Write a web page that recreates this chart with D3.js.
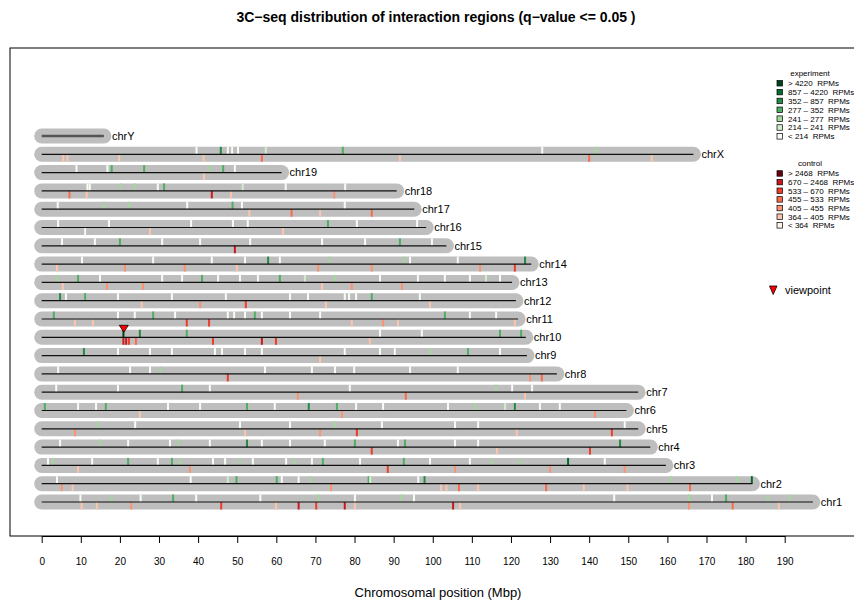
<!DOCTYPE html>
<html>
<head>
<meta charset="utf-8">
<script src="https://cdn.jsdelivr.net/npm/d3@7"></script>
<style>
  body { margin: 0; background: #fff; }
  svg { font-family: "Liberation Sans", Arial, Helvetica, sans-serif; }
  .lgtext { white-space: pre; }
</style>
</head>
<body>
<div id="chart"></div>
<script>
// chromosomes, top to bottom, with lengths (Mbp)
const chromNames = ['chrY', 'chrX', 'chr19', 'chr18', 'chr17', 'chr16', 'chr15', 'chr14', 'chr13', 'chr12',
  'chr11', 'chr10', 'chr9', 'chr8', 'chr7', 'chr6', 'chr5', 'chr4', 'chr3', 'chr2', 'chr1'];
const chromLengths = [15.9, 166.65, 61.34, 90.77, 95.27, 98.32, 103.49, 125.19, 120.28, 121.26,
  121.84, 123.8, 124.08, 131.74, 152.52, 149.52, 152.54, 155.63, 159.6, 181.75, 197.2];

const xTicks = [0, 10, 20, 30, 40, 50, 60, 70, 80, 90, 100, 110, 120, 130, 140, 150, 160, 170, 180, 190];

// legend classes (0 = strongest)
const expLabels = ['> 4220  RPMs', '857 \u2013 4220  RPMs', '352 \u2013 857  RPMs', '277 \u2013 352  RPMs',
  '241 \u2013 277  RPMs', '214 \u2013 241  RPMs', '< 214  RPMs'];
const ctrlLabels = ['> 2468  RPMs', '670 \u2013 2468  RPMs', '533 \u2013 670  RPMs', '455 \u2013 533  RPMs',
  '405 \u2013 455  RPMs', '364 \u2013 405  RPMs', '< 364  RPMs'];
const expColors = ['#00441B', '#006D2C', '#238B45', '#4DAF62', '#A1D99B', '#D2EDCB', '#F7FCF5'];
const ctrlColors = ['#67000D', '#CB181D', '#EF3B2C', '#FB6A4A', '#FC9272', '#FCC5AD', '#FFF3EA'];

const viewpoint = ['chr10', 21.0];

// experiment hits: [chrom, position (Mbp), class]
const expHits = [
  ['chrX', 39.6, 6], ['chrX', 45.8, 2], ['chrX', 47.6, 6], ['chrX', 48.7, 6], ['chrX', 50.2, 6], ['chrX', 57.3, 5],
  ['chrX', 77.0, 3], ['chrX', 128.0, 6], ['chrX', 141.8, 4],
  ['chr19', 8.9, 6], ['chr19', 16.8, 6], ['chr19', 17.9, 3], ['chr19', 26.2, 3], ['chr19', 43.0, 4], ['chr19', 46.4, 3],
  ['chr19', 49.4, 6],
  ['chr18', 11.7, 6], ['chr18', 12.3, 6], ['chr18', 20.2, 4], ['chr18', 23.8, 4], ['chr18', 29.7, 6], ['chr18', 31.3, 3],
  ['chr18', 51.4, 5], ['chr18', 62.4, 6], ['chr18', 77.6, 6],
  ['chr17', 4.1, 6], ['chr17', 15.9, 4], ['chr17', 22.4, 4], ['chr17', 37.2, 6], ['chr17', 48.8, 3], ['chr17', 51.2, 6],
  ['chr17', 77.5, 6],
  ['chr16', 4.2, 6], ['chr16', 17.2, 6], ['chr16', 38.2, 6], ['chr16', 48.9, 6], ['chr16', 52.7, 6], ['chr16', 73.2, 3],
  ['chr16', 80.6, 6], ['chr16', 96.0, 6],
  ['chr15', 5.2, 6], ['chr15', 13.6, 6], ['chr15', 20.0, 3], ['chr15', 30.8, 6], ['chr15', 40.5, 6], ['chr15', 53.3, 6],
  ['chr15', 71.7, 6], ['chr15', 82.7, 6], ['chr15', 91.6, 3], ['chr15', 99.8, 6],
  ['chr14', 10.3, 6], ['chr14', 28.5, 6], ['chr14', 43.5, 6], ['chr14', 52.0, 6], ['chr14', 57.9, 2], ['chr14', 60.9, 6],
  ['chr14', 73.7, 4], ['chr14', 92.6, 4], ['chr14', 94.2, 6], ['chr14', 106.4, 6], ['chr14', 123.6, 2],
  ['chr13', 3.9, 4], ['chr13', 9.3, 3], ['chr13', 14.9, 6], ['chr13', 30.8, 6], ['chr13', 35.9, 6], ['chr13', 41.0, 3],
  ['chr13', 45.1, 6], ['chr13', 50.7, 6], ['chr13', 55.3, 6], ['chr13', 60.9, 3], ['chr13', 67.3, 5], ['chr13', 75.0, 4],
  ['chr13', 86.5, 6], ['chr13', 96.2, 6], ['chr13', 103.1, 6], ['chr13', 109.5, 6], ['chr13', 113.6, 5], ['chr13', 117.2, 6],
  ['chr12', 4.7, 2], ['chr12', 6.2, 6], ['chr12', 11.1, 3], ['chr12', 19.5, 6], ['chr12', 33.3, 6], ['chr12', 47.1, 6],
  ['chr12', 63.5, 6], ['chr12', 68.1, 6], ['chr12', 77.5, 6], ['chr12', 78.6, 6], ['chr12', 80.4, 6], ['chr12', 84.4, 3],
  ['chr12', 96.7, 6],
  ['chr11', 3.1, 3], ['chr11', 19.5, 6], ['chr11', 23.8, 6], ['chr11', 28.5, 3], ['chr11', 34.1, 6], ['chr11', 47.6, 6],
  ['chr11', 49.2, 6], ['chr11', 52.0, 6], ['chr11', 54.5, 3], ['chr11', 56.3, 6], ['chr11', 63.5, 6], ['chr11', 71.2, 6],
  ['chr11', 103.1, 3], ['chr11', 109.5, 6], ['chr11', 116.2, 6],
  ['chr10', 20.9, 0], ['chr10', 25.1, 2], ['chr10', 37.1, 3], ['chr10', 86.5, 6], ['chr10', 97.2, 6], ['chr10', 117.2, 3],
  ['chr10', 122.6, 3],
  ['chr9', 10.8, 2], ['chr9', 19.5, 6], ['chr9', 27.7, 6], ['chr9', 33.3, 6], ['chr9', 44.3, 6], ['chr9', 46.1, 6],
  ['chr9', 52.0, 6], ['chr9', 56.3, 6], ['chr9', 77.5, 6], ['chr9', 86.5, 6], ['chr9', 90.3, 6], ['chr9', 99.3, 4],
  ['chr9', 109.0, 3], ['chr9', 117.2, 6],
  ['chr8', 4.2, 6], ['chr8', 22.6, 6], ['chr8', 27.7, 6], ['chr8', 30.3, 4], ['chr8', 57.1, 6], ['chr8', 69.1, 6],
  ['chr8', 75.0, 6], ['chr8', 79.9, 6], ['chr8', 94.2, 6], ['chr8', 106.4, 6],
  ['chr7', 3.7, 6], ['chr7', 19.5, 6], ['chr7', 35.9, 3], ['chr7', 43.0, 6], ['chr7', 78.8, 6], ['chr7', 116.2, 4],
  ['chr7', 120.3, 6], ['chr7', 125.4, 6],
  ['chr6', 0.8, 3], ['chr6', 9.3, 6], ['chr6', 13.9, 6], ['chr6', 16.4, 3], ['chr6', 32.3, 6], ['chr6', 40.5, 6],
  ['chr6', 52.5, 3], ['chr6', 59.6, 6], ['chr6', 68.3, 2], ['chr6', 75.5, 3], ['chr6', 80.4, 6], ['chr6', 87.3, 6],
  ['chr6', 103.9, 6], ['chr6', 110.8, 4], ['chr6', 118.5, 5], ['chr6', 121.0, 2], ['chr6', 127.4, 6], ['chr6', 132.5, 6],
  ['chr5', 14.4, 4], ['chr5', 23.9, 6], ['chr5', 50.7, 6], ['chr5', 63.5, 6], ['chr5', 75.0, 4], ['chr5', 87.0, 6],
  ['chr5', 105.7, 6], ['chr5', 111.6, 6], ['chr5', 149.1, 6],
  ['chr4', 4.7, 6], ['chr4', 14.9, 4], ['chr4', 22.1, 6], ['chr4', 32.8, 6], ['chr4', 34.9, 4], ['chr4', 43.0, 6],
  ['chr4', 52.5, 2], ['chr4', 56.3, 6], ['chr4', 63.5, 6], ['chr4', 72.4, 6], ['chr4', 80.1, 3], ['chr4', 91.1, 6],
  ['chr4', 92.9, 3], ['chr4', 105.7, 6], ['chr4', 111.6, 6], ['chr4', 147.9, 2],
  ['chr3', 1.6, 6], ['chr3', 2.9, 4], ['chr3', 12.9, 6], ['chr3', 22.1, 3], ['chr3', 29.7, 6], ['chr3', 33.3, 3],
  ['chr3', 35.4, 4], ['chr3', 43.8, 6], ['chr3', 46.9, 6], ['chr3', 50.7, 4], ['chr3', 54.0, 6], ['chr3', 62.5, 6],
  ['chr3', 64.5, 4], ['chr3', 69.1, 6], ['chr3', 71.9, 3], ['chr3', 81.4, 6], ['chr3', 92.6, 3], ['chr3', 99.3, 6],
  ['chr3', 109.5, 6], ['chr3', 115.1, 4], ['chr3', 122.3, 4], ['chr3', 134.6, 1], ['chr3', 144.0, 6],
  ['chr2', 3.9, 6], ['chr2', 38.1, 6], ['chr2', 47.6, 5], ['chr2', 49.8, 3], ['chr2', 60.1, 3], ['chr2', 61.4, 6],
  ['chr2', 65.7, 6], ['chr2', 68.7, 4], ['chr2', 83.6, 3], ['chr2', 84.0, 5], ['chr2', 96.3, 6], ['chr2', 97.9, 2],
  ['chr2', 160.9, 4], ['chr2', 177.8, 4], ['chr2', 181.6, 1],
  ['chr1', 9.9, 6], ['chr1', 17.9, 4], ['chr1', 25.3, 6], ['chr1', 33.6, 3], ['chr1', 39.5, 6], ['chr1', 55.9, 6],
  ['chr1', 70.8, 4], ['chr1', 80.1, 6], ['chr1', 92.0, 4], ['chr1', 95.2, 6], ['chr1', 146.4, 6], ['chr1', 165.5, 4],
  ['chr1', 171.4, 6], ['chr1', 175.0, 3], ['chr1', 185.7, 4], ['chr1', 191.3, 4]
];

// control hits: [chrom, position (Mbp), class]
const ctrlHits = [
  ['chrX', 5.5, 5], ['chrX', 6.6, 5], ['chrX', 19.8, 5], ['chrX', 41.4, 5], ['chrX', 56.3, 3], ['chrX', 91.6, 5],
  ['chrX', 140.0, 3], ['chrX', 156.0, 5],
  ['chr19', 41.5, 5],
  ['chr18', 7.1, 3], ['chr18', 11.5, 5], ['chr18', 43.5, 1], ['chr18', 48.4, 5], ['chr18', 74.8, 4],
  ['chr17', 53.1, 5], ['chr17', 63.9, 3], ['chr17', 71.2, 5], ['chr17', 84.4, 3],
  ['chr16', 11.1, 6], ['chr16', 27.7, 5], ['chr16', 61.7, 5],
  ['chr15', 49.4, 1],
  ['chr14', 3.9, 5], ['chr14', 21.3, 4], ['chr14', 36.6, 4], ['chr14', 49.9, 5], ['chr14', 70.7, 4], ['chr14', 84.4, 4],
  ['chr14', 112.1, 4], ['chr14', 121.0, 2],
  ['chr13', 5.4, 5], ['chr13', 16.7, 4], ['chr13', 25.9, 4], ['chr13', 71.7, 5], ['chr13', 79.3, 4], ['chr13', 92.1, 4],
  ['chr12', 25.6, 5], ['chr12', 40.5, 4], ['chr12', 52.2, 2], ['chr12', 72.7, 5], ['chr12', 99.3, 5],
  ['chr11', 8.5, 5], ['chr11', 13.1, 5], ['chr11', 37.1, 2], ['chr11', 42.8, 2], ['chr11', 79.3, 5], ['chr11', 87.3, 4],
  ['chr11', 91.1, 5], ['chr11', 121.0, 5],
  ['chr10', 20.9, 1], ['chr10', 21.6, 1], ['chr10', 22.3, 2], ['chr10', 24.1, 3], ['chr10', 43.8, 2], ['chr10', 56.3, 1],
  ['chr10', 59.9, 2], ['chr10', 83.9, 5],
  ['chr9', 71.2, 5],
  ['chr8', 47.6, 2], ['chr8', 124.9, 4], ['chr8', 127.9, 3],
  ['chr7', 65.5, 4], ['chr7', 93.1, 3], ['chr7', 123.6, 5],
  ['chr6', 25.1, 5], ['chr6', 76.8, 4], ['chr6', 141.5, 4],
  ['chr5', 8.5, 4], ['chr5', 52.0, 5], ['chr5', 71.2, 4], ['chr5', 80.6, 2], ['chr5', 121.5, 5], ['chr5', 145.8, 2],
  ['chr4', 84.4, 2], ['chr4', 116.4, 5], ['chr4', 140.2, 2],
  ['chr3', 9.3, 5], ['chr3', 37.9, 4], ['chr3', 88.5, 2], ['chr3', 105.7, 4], ['chr3', 130.0, 4], ['chr3', 149.1, 4],
  ['chr2', 5.1, 4], ['chr2', 7.9, 5], ['chr2', 74.0, 4], ['chr2', 102.1, 5], ['chr2', 103.5, 5], ['chr2', 106.7, 3],
  ['chr2', 111.6, 5], ['chr2', 129.0, 3], ['chr2', 138.6, 5], ['chr2', 149.8, 5], ['chr2', 165.8, 3],
  ['chr1', 10.2, 5], ['chr1', 14.1, 5], ['chr1', 22.9, 4], ['chr1', 45.9, 2], ['chr1', 59.9, 5], ['chr1', 65.7, 1],
  ['chr1', 70.2, 2], ['chr1', 77.5, 1], ['chr1', 80.1, 5], ['chr1', 105.2, 1], ['chr1', 107.0, 5], ['chr1', 165.5, 4],
  ['chr1', 176.7, 3], ['chr1', 188.5, 5]
];

const W = 854, H = 600;
const frame = { left: 10, top: 48, right: 866, bottom: 536 };
const half = 7.5;   // half height of a chromosome bar

const svg = d3.select('#chart').append('svg')
  .attr('width', W)
  .attr('height', H);

const x = d3.scaleLinear().domain([0, 190]).range([41.7, 784.7]);
const y = d3.scalePoint().domain(chromNames).range([136, 502]);

const lengthOf = new Map(chromNames.map((c, k) => [c, chromLengths[k]]));
const hitCount = d3.rollup(expHits.concat(ctrlHits), v => v.length, d => d[0]);

// title
svg.append('text')
  .attr('x', 436)
  .attr('y', 22)
  .attr('text-anchor', 'middle')
  .style('font-size', '14px')
  .style('font-weight', 'bold')
  .text('3C\u2212seq distribution of interaction regions (q\u2212value <= 0.05 )');

// plot frame
svg.append('rect')
  .attr('x', frame.left)
  .attr('y', frame.top)
  .attr('width', frame.right - frame.left)
  .attr('height', frame.bottom - frame.top)
  .attr('fill', 'none')
  .attr('stroke', '#000')
  .attr('stroke-width', 1);

const g = svg.append('g');

// grey chromosome bars
g.selectAll('line.bar')
  .data(chromNames)
  .join('line')
  .attr('class', 'bar')
  .attr('x1', x(0))
  .attr('x2', d => x(lengthOf.get(d)))
  .attr('y1', d => y(d))
  .attr('y2', d => y(d))
  .attr('stroke', '#BEBEBE')
  .attr('stroke-width', half * 2)
  .attr('stroke-linecap', 'round');

// experiment hits above the centre line
g.selectAll('rect.exp')
  .data(expHits)
  .join('rect')
  .attr('class', 'exp')
  .attr('x', d => x(d[1]) - 1)
  .attr('y', d => y(d[0]) - half)
  .attr('width', 2)
  .attr('height', half)
  .attr('fill', d => expColors[d[2]]);

// control hits below
g.selectAll('rect.ctrl')
  .data(ctrlHits)
  .join('rect')
  .attr('class', 'ctrl')
  .attr('x', d => x(d[1]) - 1)
  .attr('y', d => y(d[0]))
  .attr('width', 2)
  .attr('height', half)
  .attr('fill', d => ctrlColors[d[2]]);

// chromosome centre lines
g.selectAll('line.axisline')
  .data(chromNames)
  .join('line')
  .attr('class', 'axisline')
  .attr('x1', x(0))
  .attr('x2', d => x(lengthOf.get(d)))
  .attr('y1', d => y(d))
  .attr('y2', d => y(d))
  .attr('stroke', d => hitCount.get(d) ? '#111' : '#555')
  .attr('stroke-width', d => hitCount.get(d) ? 1.2 : 2.4);

// chromosome labels
g.selectAll('text.chrom')
  .data(chromNames)
  .join('text')
  .attr('class', 'chrom')
  .attr('x', d => x(lengthOf.get(d)) + 8)
  .attr('y', d => y(d))
  .attr('dy', '0.35em')
  .style('font-size', '11px')
  .text(d => d);

// viewpoint marker
const vx = x(viewpoint[1]), vy = y(viewpoint[0]);
g.append('path')
  .attr('d', `M${vx - 4.5},${vy - 12}L${vx + 4.5},${vy - 12}L${vx},${vy - 5}Z`)
  .attr('fill', '#FF0000')
  .attr('stroke', '#000')
  .attr('stroke-width', 0.8);

// x axis
const axis = svg.append('g')
  .attr('transform', `translate(0,${frame.bottom})`)
  .call(d3.axisBottom(x).tickValues(xTicks).tickSize(7).tickSizeOuter(0).tickPadding(15));
axis.selectAll('path, line').attr('stroke', '#000');
axis.selectAll('text').style('font-size', '10px').attr('fill', '#000')
  .style('font-family', '"Liberation Sans", Arial, sans-serif');

svg.append('text')
  .attr('x', 438)
  .attr('y', 597)
  .attr('text-anchor', 'middle')
  .style('font-size', '13px')
  .text('Chromosomal position (Mbp)');

// legends
function legend(title, labels, colors, top, step) {
  const lg = svg.append('g');
  lg.append('text')
    .attr('x', 810)
    .attr('y', top)
    .attr('dy', '0.35em')
    .attr('text-anchor', 'middle')
    .style('font-size', '8px')
    .text(title);
  const item = lg.selectAll('g.item')
    .data(labels)
    .join('g')
    .attr('class', 'item')
    .attr('transform', (d, k) => `translate(0,${top + 10 + k * step})`);
  item.append('rect')
    .attr('x', 777)
    .attr('y', -2.8)
    .attr('width', 5.5)
    .attr('height', 5.5)
    .attr('fill', (d, k) => colors[k])
    .attr('stroke', '#000')
    .attr('stroke-width', 0.7);
  item.append('text')
    .attr('class', 'lgtext')
    .attr('x', 788)
    .attr('dy', '0.35em')
    .style('font-size', '8px')
    .text(d => d);
}
legend('experiment', expLabels, expColors, 73.3, 8.85);
legend('control', ctrlLabels, ctrlColors, 163.5, 8.65);

// viewpoint legend
svg.append('path')
  .attr('d', 'M769.5,286L777,286L773.2,294.5Z')
  .attr('fill', '#FF0000')
  .attr('stroke', '#000')
  .attr('stroke-width', 0.8);
svg.append('text')
  .attr('x', 785)
  .attr('y', 290)
  .attr('dy', '0.35em')
  .style('font-size', '11px')
  .text('viewpoint');
</script>
</body>
</html>
